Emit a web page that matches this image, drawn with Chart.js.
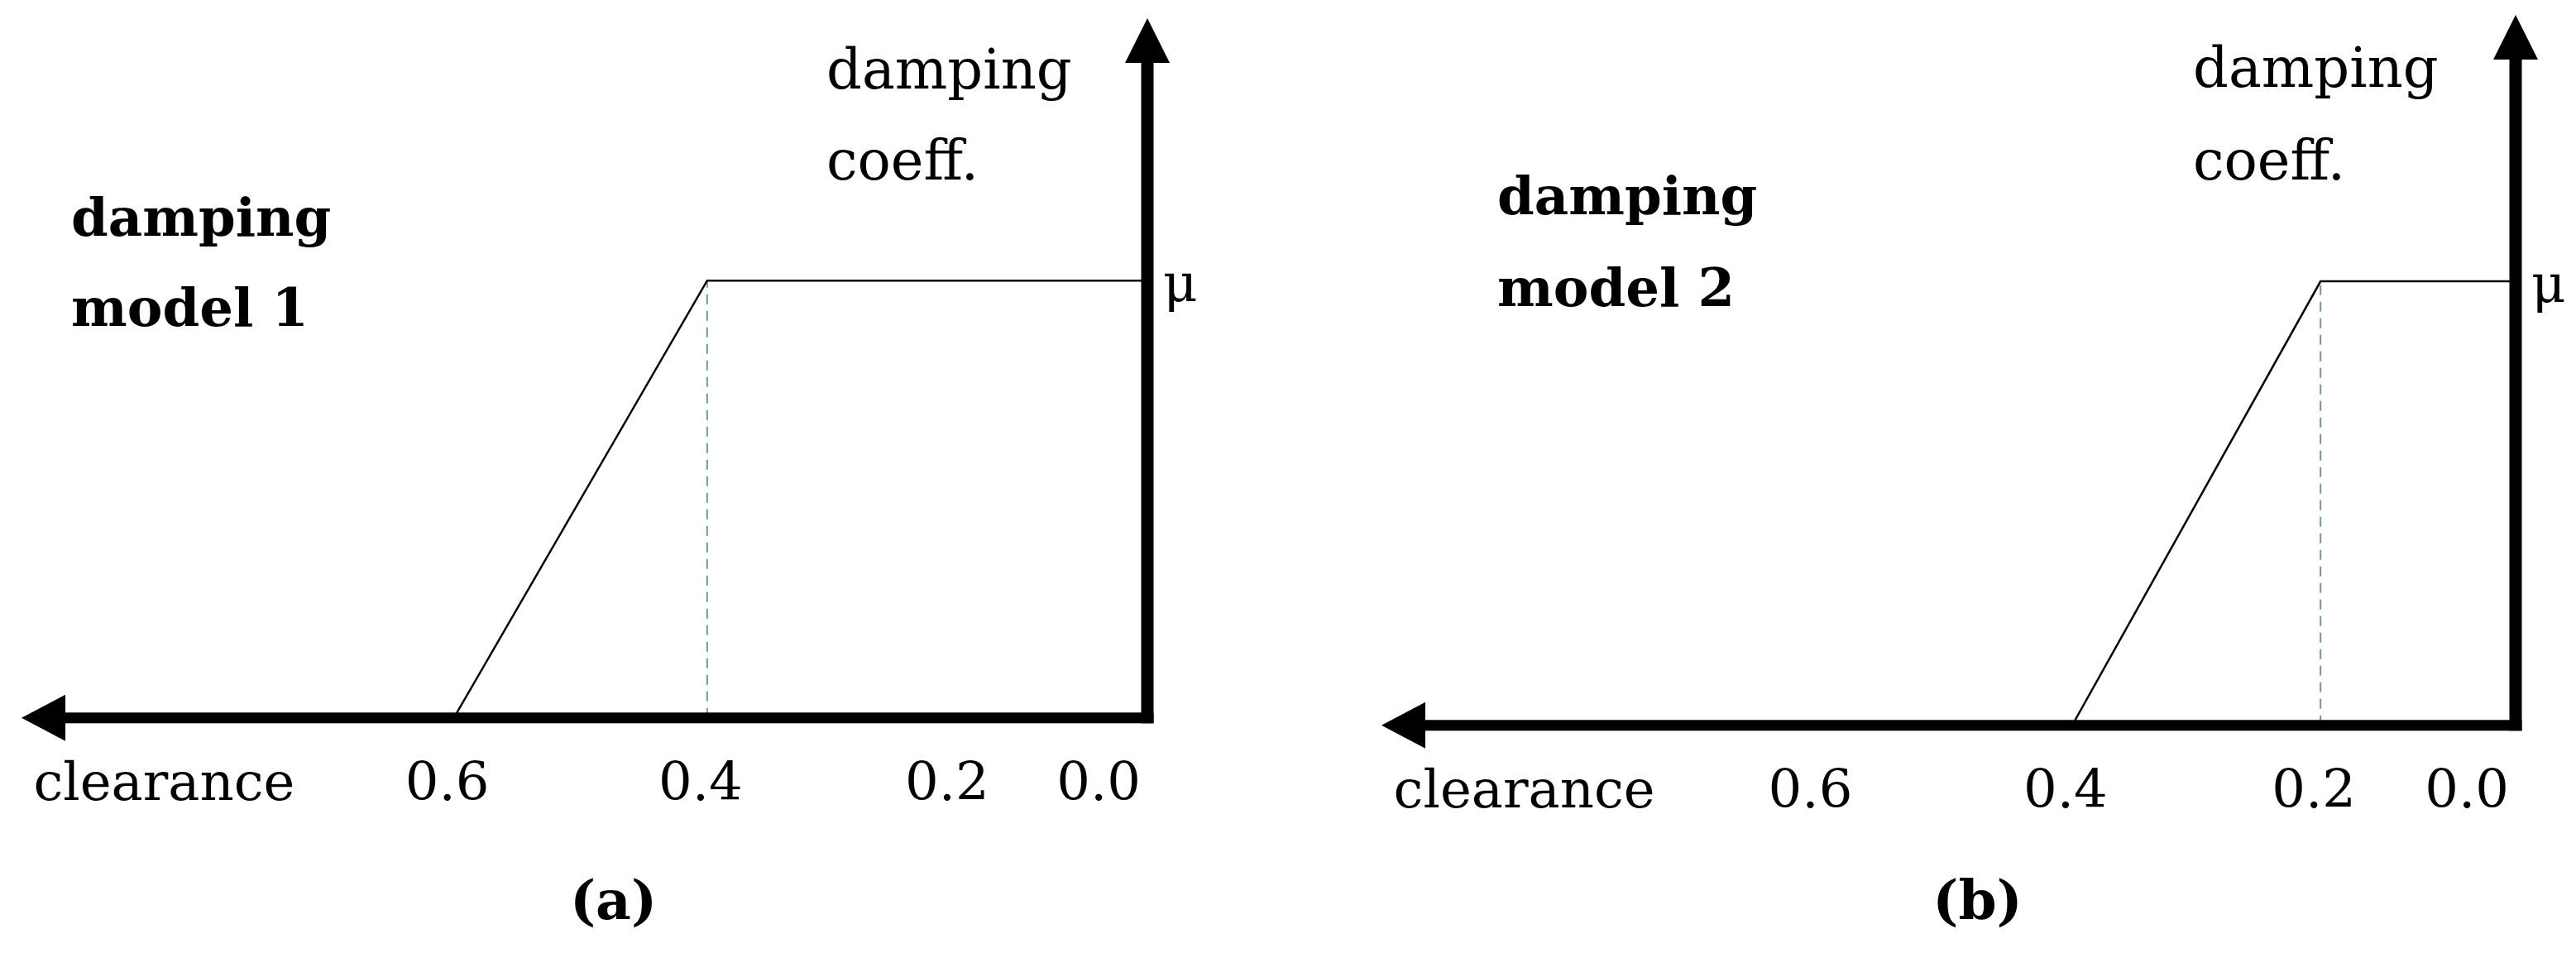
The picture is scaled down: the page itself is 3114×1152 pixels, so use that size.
<!DOCTYPE html>
<html>
<head>
<meta charset="utf-8">
<script src="https://cdn.jsdelivr.net/npm/chart.js@4.4.1/dist/chart.umd.min.js"></script>
<style>
  body { margin: 0; background: #fff; }
  #wrap { position: relative; width: 3114px; height: 1152px; overflow: hidden; background: #fff; }
  canvas { position: absolute; top: 0; }
  .note { position: absolute; font-family: 'DejaVu Serif'; font-size: 67px; color: #000; white-space: nowrap; }
  .note.bold { font-weight: bold; font-size: 64px; }
</style>
</head>
<body>
<div id="wrap">
  <canvas id="chartA" width="1557" height="1152" style="left:0"></canvas>
  <canvas id="chartB" width="1557" height="1152" style="left:1557px"></canvas>
  <div class="note" style="left:999px;top:29px;line-height:110px">damping<br>coeff.</div>
  <div class="note bold" style="left:86px;top:208px;line-height:109px">damping<br>model 1</div>
  <div class="note" style="left:2651px;top:26px;line-height:112px">damping<br>coeff.</div>
  <div class="note bold" style="left:1810px;top:181px;line-height:111px">damping<br>model 2</div>
</div>
<script>
// model 1: coefficient ramps up between clearance 0.6 and 0.4
const clearanceA = [0.6, 0.4, 0.0];
const dampingA = [0, 1, 1];
const kneeA = 0.4;
// model 2: ramp between 0.4 and 0.2
const clearanceB = [0.4, 0.2, 0.0];
const dampingB = [0, 1, 1];
const kneeB = 0.2;

const xMax = 0.95;
const xTicks = [0.0, 0.2, 0.4, 0.6, 0.935];
const xTickLabels = ['0.0', '0.2', '0.4', '0.6', 'clearance'];
const yTicks = [1];
const yTickLabels = ['μ'];

// the sketch axis is not evenly spaced, so map value -> fraction of axis piecewise
const axisStops = [[0, 0], [0.2, 0.172], [0.4, 0.391], [0.6, 0.616], [xMax, 1]];

class StopScale extends Chart.LinearScale {
  static id = 'stops';
  static defaults = {};
  toDecimal(v) {
    const s = axisStops;
    for (let i = 1; i < s.length; i++) {
      if (v <= s[i][0] || i === s.length - 1) {
        const [v0, d0] = s[i - 1], [v1, d1] = s[i];
        return d0 + (v - v0) / (v1 - v0) * (d1 - d0);
      }
    }
  }
  getPixelForValue(value) {
    if (value === null || value === undefined || isNaN(value)) return NaN;
    return this.getPixelForDecimal(this.toDecimal(value));
  }
  getValueForPixel(pixel) {
    let d = (pixel - this._startPixel) / this._length;
    if (this._reversePixels) d = 1 - d;
    const s = axisStops;
    for (let i = 1; i < s.length; i++) {
      if (d <= s[i][1] || i === s.length - 1) {
        const [v0, d0] = s[i - 1], [v1, d1] = s[i];
        return v0 + (d - d0) / (d1 - d0) * (v1 - v0);
      }
    }
  }
}
Chart.register(StopScale);

Chart.defaults.font.family = 'DejaVu Serif';
Chart.defaults.color = '#000';

// thick arrow axes, drawn on the scales' zero lines
const arrowAxes = {
  id: 'arrowAxes',
  afterDatasetsDraw(chart) {
    const { ctx, chartArea: a, scales: { x, y } } = chart;
    const x0 = x.getPixelForValue(0);
    const y0 = y.getPixelForValue(0);
    ctx.save();
    ctx.fillStyle = '#000';
    ctx.fillRect(a.left + 45, y0 - 6.5, x0 + 7.5 - (a.left + 45), 13);
    ctx.beginPath();
    ctx.moveTo(a.left, y0);
    ctx.lineTo(a.left + 53, y0 - 28);
    ctx.lineTo(a.left + 53, y0 + 28);
    ctx.closePath();
    ctx.fill();
    ctx.fillRect(x0 - 7.5, a.top + 45, 15, y0 + 6.5 - (a.top + 45));
    ctx.beginPath();
    ctx.moveTo(x0, a.top);
    ctx.lineTo(x0 - 27, a.top + 54);
    ctx.lineTo(x0 + 27, a.top + 54);
    ctx.closePath();
    ctx.fill();
    ctx.restore();
  }
};

function makeChart(id, clearance, damping, knee, caption, pad, xAxisHeight) {
  new Chart(document.getElementById(id), {
    type: 'line',
    data: {
      datasets: [{
        data: clearance.map((c, i) => ({ x: c, y: damping[i] })),
        borderColor: '#000',
        borderWidth: 2.5,
        pointRadius: 0,
        tension: 0
      }, {
        data: [{ x: knee, y: 0 }, { x: knee, y: damping[1] }],
        borderColor: '#7193b8',
        borderWidth: 2,
        borderDash: [12, 8],
        pointRadius: 0
      }]
    },
    plugins: [arrowAxes],
    options: {
      responsive: false,
      animation: false,
      devicePixelRatio: 1,
      layout: { padding: pad },
      plugins: {
        legend: { display: false },
        tooltip: { enabled: false },
        title: {
          display: true,
          position: 'bottom',
          text: caption,
          font: { size: 66, weight: 'bold' },
          padding: 0
        }
      },
      scales: {
        x: {
          type: 'stops',
          reverse: true,
          min: 0,
          max: xMax,
          grid: { display: false, drawTicks: false },
          border: { display: false },
          afterBuildTicks: s => { s.ticks = xTicks.map(v => ({ value: v })); },
          afterFit: s => { s.height = xAxisHeight; s.paddingLeft = 0; s.paddingRight = 0; },
          ticks: {
            autoSkip: false,
            maxRotation: 0,
            align: 'inner',
            padding: 44,
            labelOffset: -8,
            font: { size: 64 },
            callback: (v, i) => xTickLabels[i]
          }
        },
        y: {
          type: 'linear',
          position: 'right',
          min: 0,
          max: 1.6,
          grid: { display: false, drawTicks: false },
          border: { display: false },
          afterBuildTicks: s => { s.ticks = yTicks.map(v => ({ value: v })); },
          afterFit: s => { s.width = 70; s.paddingTop = 0; s.paddingBottom = 0; },
          ticks: {
            padding: 19,
            labelOffset: 8,
            font: { size: 64 },
            callback: (v, i) => yTickLabels[i]
          }
        }
      }
    }
  });
}

makeChart('chartA', clearanceA, dampingA, kneeA, '(a)', { left: 26, top: 22, right: 100, bottom: 19 }, 186);
makeChart('chartB', clearanceB, dampingB, kneeB, '(b)', { left: 113, top: 18, right: 3, bottom: 19 }, 177);
</script>
</body>
</html>
